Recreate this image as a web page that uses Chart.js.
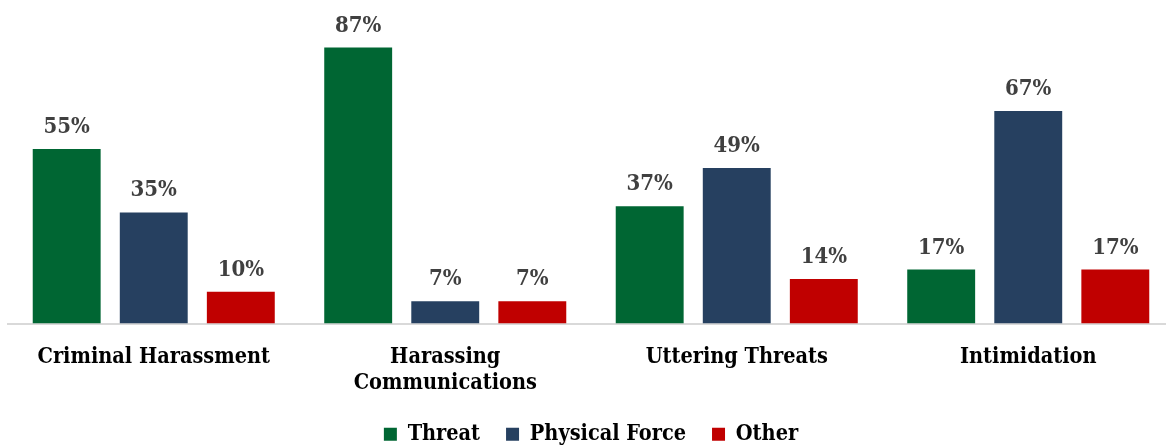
<!DOCTYPE html>
<html>
<head>
<meta charset="utf-8">
<script src="https://cdn.jsdelivr.net/npm/chart.js@4"></script>
<style>
  html, body { margin: 0; padding: 0; background: #fff; overflow: hidden; }
  #wrap { width: 1176px; height: 455px; }
</style>
</head>
<body>
<div id="wrap"><canvas id="chart"></canvas></div>
<script>
const categories = ['Criminal Harassment', ['Harassing', 'Communications'], 'Uttering Threats', 'Intimidation'];
const threat = [55, 87, 37, 17];
const physicalForce = [35, 7, 49, 67];
const other = [10, 7, 14, 17];

const FONT = '"DejaVu Serif Condensed", "DejaVu Serif", serif';

// draws the % value above every bar
const valueLabels = {
    id: 'valueLabels',
    afterDatasetsDraw(chart) {
        const c = chart.ctx;
        c.save();
        c.font = 'bold 22px ' + FONT;
        c.fillStyle = '#404040';
        c.textAlign = 'center';
        c.textBaseline = 'alphabetic';
        chart.data.datasets.forEach((ds, i) => {
            chart.getDatasetMeta(i).data.forEach((bar, j) => {
                c.fillText(ds.data[j] + '%', bar.x, bar.y - 16);
            });
        });
        c.restore();
    }
};

const ctx = document.getElementById('chart').getContext('2d');
new Chart(ctx, {
    type: 'bar',
    data: {
        labels: categories,
        datasets: [
            { label: 'Threat', data: threat, backgroundColor: '#006633' },
            { label: 'Physical Force', data: physicalForce, backgroundColor: '#264060' },
            { label: 'Other', data: other, backgroundColor: '#c00000' }
        ]
    },
    options: {
        responsive: true,
        maintainAspectRatio: false,
        animation: false,
        datasets: {
            bar: { categoryPercentage: 0.896, barPercentage: 0.78 }
        },
        layout: { padding: { left: 8, right: 2, top: 0, bottom: 0 } },
        plugins: {
            tooltip: { enabled: false },
            legend: {
                position: 'bottom',
                labels: {
                    font: { family: FONT, size: 21.5, weight: 'bold' },
                    color: '#000',
                    boxWidth: 13,
                    boxHeight: 13,
                    padding: 26
                }
            }
        },
        scales: {
            x: {
                grid: { display: false },
                border: { display: true, color: '#d9d9d9', width: 2 },
                ticks: {
                    color: '#000',
                    padding: 13,
                    font: { family: FONT, size: 21.5, weight: 'bold', lineHeight: 1.2 },
                    maxRotation: 0
                },
                afterFit(scale) { scale.height = 74; }
            },
            y: {
                display: false,
                min: 0,
                max: 102
            }
        }
    },
    plugins: [valueLabels]
});
</script>
</body>
</html>
